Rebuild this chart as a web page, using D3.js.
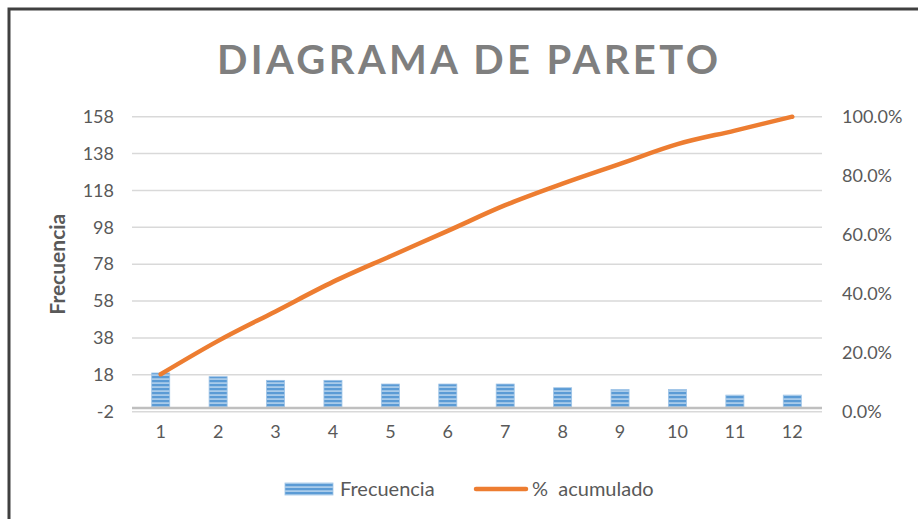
<!DOCTYPE html>
<html>
<head>
<meta charset="utf-8">
<script src="https://cdn.jsdelivr.net/npm/d3@7"></script>
<style>
	body { margin: 0; background: #fff; }
	svg { display: block; font-family: Lato, "Open Sans", sans-serif; }
</style>
</head>
<body>
<div id="chartDiv"></div>
<script>
;(function() {

	var width = 918;
	var height = 519;

	// data
	var categorias = ["1", "2", "3", "4", "5", "6", "7", "8", "9", "10", "11", "12"];
	var frecuencia = [19, 17, 15, 15, 13, 13, 13, 11, 10, 10, 7, 7];
	var acumulado = [12.7, 24.0, 34.0, 44.0, 52.7, 61.3, 70.0, 77.3, 84.0, 90.7, 95.3, 100.0];
	var leftTicks = [-2, 18, 38, 58, 78, 98, 118, 138, 158];
	var rightTicks = [0, 20, 40, 60, 80, 100];

	var titulo = "DIAGRAMA DE PARETO";
	var yAxisLabelHeader = "Frecuencia";
	var serie1 = "Frecuencia";
	var serie2 = "%  acumulado";

	var plot = { left: 132, right: 821, top: 116.7, bottom: 411.7 };
	var textColor = "#595959";
	var orange = "#ed7d31";

	var svg = d3.select("#chartDiv").append("svg")
		.attr("width", width)
		.attr("height", height);

	// stripes for the bars
	var defs = svg.append("defs");
	var pat = defs.append("pattern")
		.attr("id", "stripes")
		.attr("patternUnits", "userSpaceOnUse")
		.attr("width", 8)
		.attr("height", 4);
	pat.append("rect").attr("width", 8).attr("height", 4).attr("fill", "#a9cbea");
	pat.append("rect").attr("width", 8).attr("height", 2.2).attr("fill", "#5b9bd5");

	// outer frame (top and left edges are visible)
	svg.append("path")
		.attr("d", "M9," + height + "V9H" + width)
		.attr("fill", "none")
		.attr("stroke", "#404040")
		.attr("stroke-width", 3);

	svg.append("text")
		.attr("x", 217)
		.attr("y", 74)
		.attr("textLength", 501)
		.attr("lengthAdjust", "spacing")
		.style("font-size", "40px")
		.style("font-weight", "bold")
		.attr("fill", "#7f7f7f")
		.text(titulo);

	// scales
	var xScale = d3.scaleBand()
		.domain(categorias)
		.range([plot.left, plot.right])
		.paddingInner(0.686)
		.paddingOuter(0.343);

	var yLeft = d3.scaleLinear()
		.domain([-2, 158])
		.range([plot.bottom, plot.top]);

	var yRight = d3.scaleLinear()
		.domain([0, 100])
		.range([plot.bottom, plot.top]);

	// gridlines
	svg.append("g").selectAll("line")
		.data(leftTicks)
		.enter().append("line")
			.attr("x1", plot.left)
			.attr("x2", plot.right + 1)
			.attr("y1", function(d) { return yLeft(d); })
			.attr("y2", function(d) { return yLeft(d); })
			.attr("stroke", "#d9d9d9")
			.attr("stroke-width", 1.5);

	// left axis
	var yAxisL = d3.axisLeft(yLeft).tickValues(leftTicks).tickSize(0).tickPadding(18)
		.tickFormat(function(d) { return String(d); });
	var gl = svg.append("g")
		.attr("transform", "translate(" + plot.left + ",0)")
		.call(yAxisL);
	gl.select(".domain").remove();
	gl.selectAll("text").style("font-size", "18px").style("font-family", "Lato").attr("fill", textColor);

	// right axis
	var yAxisR = d3.axisRight(yRight).tickValues(rightTicks).tickSize(0).tickPadding(21)
		.tickFormat(function(d) { return d.toFixed(1) + "%"; });
	var gr = svg.append("g")
		.attr("transform", "translate(" + plot.right + ",0)")
		.call(yAxisR);
	gr.select(".domain").remove();
	gr.selectAll("text").style("font-size", "18px").style("font-family", "Lato").attr("fill", textColor);

	// bars
	svg.append("g").selectAll(".bar")
		.data(frecuencia)
		.enter().append("rect")
			.attr("class", "bar")
			.attr("x", function(d, i) { return xScale(categorias[i]); })
			.attr("y", function(d) { return yLeft(d); })
			.attr("width", xScale.bandwidth())
			.attr("height", function(d) { return yLeft(0) - yLeft(d); })
			.attr("fill", "url(#stripes)")
			.attr("stroke", "#9dc3e6")
			.attr("stroke-width", 0.8);

	// zero axis line
	svg.append("line")
		.attr("x1", plot.left)
		.attr("x2", plot.right + 1)
		.attr("y1", yLeft(0))
		.attr("y2", yLeft(0))
		.attr("stroke", "#bfbfbf")
		.attr("stroke-width", 2.5);

	// x axis labels
	var xAxis = d3.axisBottom(xScale).tickSize(0).tickPadding(14);
	var gx = svg.append("g")
		.attr("transform", "translate(0," + plot.bottom + ")")
		.call(xAxis);
	gx.select(".domain").remove();
	gx.selectAll("text").style("font-size", "18px").style("font-family", "Lato").attr("fill", textColor);

	// cumulative line
	var line = d3.line()
		.x(function(d, i) { return xScale(categorias[i]) + xScale.bandwidth() / 2; })
		.y(function(d) { return yRight(d); })
		.curve(d3.curveMonotoneX);

	svg.append("path")
		.datum(acumulado)
		.attr("d", line)
		.attr("fill", "none")
		.attr("stroke", orange)
		.attr("stroke-width", 4.5)
		.attr("stroke-linecap", "round")
		.attr("stroke-linejoin", "round");

	// y axis header label
	svg.append("text")
		.attr("text-anchor", "middle")
		.attr("transform", "translate(65," + ((plot.top + plot.bottom) / 2) + ") rotate(-90)")
		.style("font-size", "21px")
		.style("font-weight", "bold")
		.attr("fill", textColor)
		.text(yAxisLabelHeader);

	// legend
	var legend = svg.append("g");
	legend.append("rect")
		.attr("x", 285).attr("y", 483)
		.attr("width", 48).attr("height", 12)
		.attr("fill", "url(#stripes)")
		.attr("stroke", "#9dc3e6")
		.attr("stroke-width", 0.8);
	legend.append("text")
		.attr("x", 340).attr("y", 496)
		.style("font-size", "20px")
		.attr("fill", textColor)
		.text(serie1);
	legend.append("line")
		.attr("x1", 476).attr("x2", 526)
		.attr("y1", 489).attr("y2", 489)
		.attr("stroke", orange)
		.attr("stroke-width", 4.5)
		.attr("stroke-linecap", "round");
	legend.append("text")
		.attr("x", 532).attr("y", 496)
		.style("font-size", "20px")
		.style("white-space", "pre")
		.attr("xml:space", "preserve")
		.attr("fill", textColor)
		.text(serie2);

})();
</script>
</body>
</html>
